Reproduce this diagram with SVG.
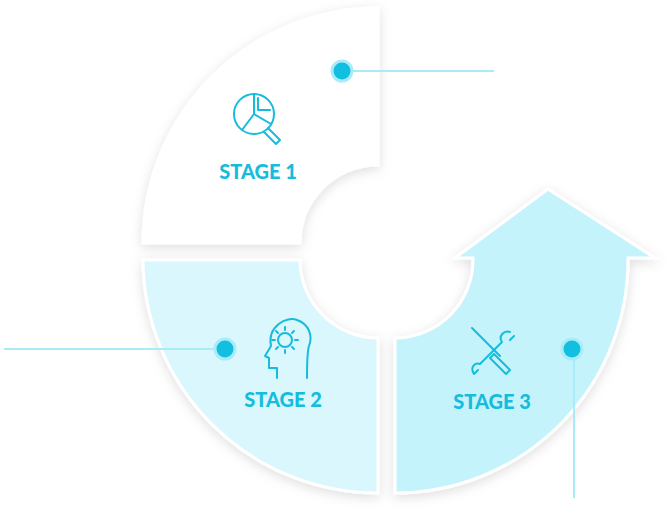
<svg xmlns="http://www.w3.org/2000/svg" width="668" height="513" viewBox="0 0 668 513">
<defs>
<filter id="sh" x="-20%" y="-20%" width="140%" height="140%"><feDropShadow dx="0" dy="3" stdDeviation="6" flood-color="#000" flood-opacity="0.13"/></filter>
<style>
.seg{stroke:#fff;stroke-width:3;filter:url(#sh)}
.lbl{font-family:Lato,"Liberation Sans",sans-serif;font-weight:900;font-size:20px;fill:#16bcdc;text-anchor:middle}
.ic{fill:none;stroke:#16bcdc;stroke-width:2;stroke-linecap:round;stroke-linejoin:round}
.ln{stroke:#a8ecf8;stroke-width:2;fill:none}
.dot{fill:#12bfe0;stroke:#a8ecf8;stroke-width:3}
</style>
</defs>
<rect width="668" height="513" fill="#fff"/>
<g id="stage1">
<path class="seg" fill="#fff" d="M378,8 A235,235 0 0 0 143,243 L300,243 A78,78 0 0 1 378,165 Z"/>
<g class="ic" transform="translate(254,114)">
<circle r="20"/><path d="M0,-20 V0 L17,10 M0,0 L-12,16"/><path d="M4,-16 V-4 H16"/>
<path d="M14,14 L26,26 L22,30 L10,18"/>
</g>
<text class="lbl" x="258" y="179">STAGE 1</text>
</g>
<g id="stage2">
<path class="seg" fill="#d9f7fd" d="M143,260 A235,235 0 0 0 378,493 L378,338 A78,78 0 0 1 300,260 Z"/>
<g class="ic" transform="translate(283,340)">
<path d="M-6,38 V28 H-14 V18 L-18,16 L-12,6 C-16,-14 4,-24 14,-20 C26,-16 30,-4 26,6 C24,12 24,20 24,38"/>
<circle cx="2" cy="0" r="7"/>
<path d="M2,-13 v3 M2,10 v3 M-11,0 h3 M12,0 h3 M-7,-9 l2,2 M9,7 l2,2 M11,-9 l-2,2 M-7,9 l2,-2"/>
</g>
<text class="lbl" x="283" y="407">STAGE 2</text>
</g>
<g id="stage3">
<path class="seg" fill="#c4f3fc" d="M395,493 A233,233 0 0 0 628,258 L655,258 L548,189 L455,258 L473,258 A78,78 0 0 1 395,338 Z"/>
<g class="ic" transform="translate(492,352)">
<path d="M-20,-24 L8,4 M2,2 L18,18 L14,22 L-2,6 Z"/>
<path d="M18,-20 C12,-22 6,-16 10,-10 L-12,12 C-18,10 -22,16 -18,22 M-18,22 l4,-4 M22,-16 l-4,4"/>
</g>
<text class="lbl" x="492" y="409">STAGE 3</text>
</g>
<g id="connectors">
<path class="ln" d="M344,71 H494"/>
<path class="ln" d="M4,349 H225"/>
<path class="ln" d="M574,349 V498"/>
<circle class="dot" cx="342" cy="71" r="10"/>
<circle class="dot" cx="225" cy="349" r="10"/>
<circle class="dot" cx="572" cy="349" r="10"/>
</g>
</svg>
